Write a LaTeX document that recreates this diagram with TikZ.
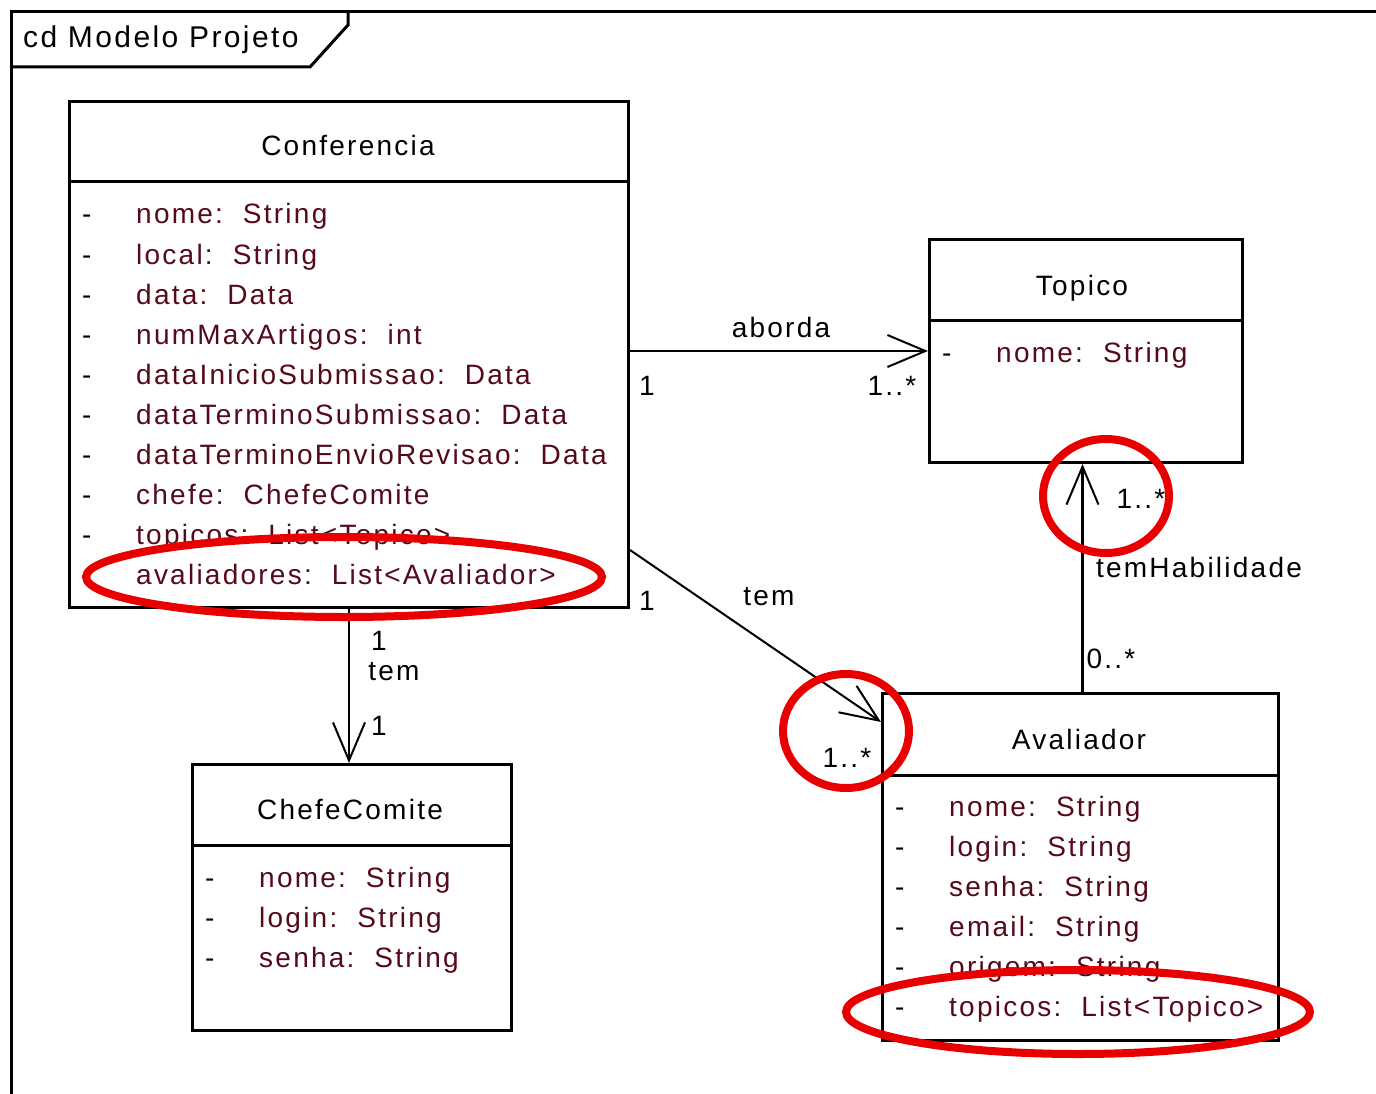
\documentclass[tikz,border=0pt]{standalone}
\usepackage{fontspec}
\setmainfont[LetterSpace=8]{Liberation Sans}
\usetikzlibrary{arrows.meta,calc}
\definecolor{attrcol}{RGB}{85,10,25}
\definecolor{markred}{RGB}{232,0,0}
\newcommand{\umlfont}{\fontsize{28}{34}\selectfont}
\newcommand{\attrrow}[1]{\makebox[54pt][l]{\color{black}-}#1}
\tikzset{
  classbox/.style={draw, line width=3pt, inner sep=0pt, anchor=north west},
  divider/.style={line width=3pt},
  classtitle/.style={anchor=base, inner sep=0pt, font=\umlfont},
  attrtext/.style={anchor=base west, inner sep=0pt, text=attrcol, font=\umlfont},
  lbl/.style={anchor=base, inner sep=0pt, font=\umlfont},
  conn/.style={line width=2.5pt},
  opentip/.style={-{Straight Barb[length=38pt,width=32pt,line width=2pt]}},
  highlight/.style={draw=markred, line width=8pt},
  framestyle/.style={line width=3pt}
}
\begin{document}
\begin{tikzpicture}[x=1pt,y=-1pt]
\useasboundingbox (0,0) rectangle (1376,1094);
\fill[white] (0,0) rectangle (1376,1094);

% frame
\draw[framestyle] (11,1094) -- (11,12) -- (1376,12);
\draw[framestyle] (11,67) -- (310,67) -- (348,25) -- (348,12);
\node[anchor=base west, inner sep=0pt, font=\fontsize{30}{36}\selectfont] (frametitle) at (23,48) {cd Modelo Projeto};

% Conferencia
\node[classbox, minimum width=559pt, minimum height=506pt] (conf) at (68,100) {};
\draw[divider] ($(conf.north west)+(0,-82pt)$) -- ($(conf.north east)+(0,-82pt)$);
\node[classtitle] (conft) at (348,156) {Conferencia};
\node[attrtext] (c1) at (82,224) {\attrrow{nome:~~String}};
\node[attrtext] (c2) at (82,264) {\attrrow{local:~~String}};
\node[attrtext] (c3) at (82,304) {\attrrow{data:~~Data}};
\node[attrtext] (c4) at (82,344) {\attrrow{numMaxArtigos:~~int}};
\node[attrtext] (c5) at (82,384) {\attrrow{dataInicioSubmissao:~~Data}};
\node[attrtext] (c6) at (82,424) {\attrrow{dataTerminoSubmissao:~~Data}};
\node[attrtext] (c7) at (82,464) {\attrrow{dataTerminoEnvioRevisao:~~Data}};
\node[attrtext] (c8) at (82,504) {\attrrow{chefe:~~ChefeComite}};
\node[attrtext] (c9) at (82,544) {\attrrow{topicos:~~List<Topico>}};
\node[attrtext] (c10) at (82,584) {\attrrow{avaliadores:~~List<Avaliador>}};

% Topico
\node[classbox, minimum width=313pt, minimum height=223pt] (topico) at (928,238) {};
\draw[divider] ($(topico.north west)+(0,-82pt)$) -- ($(topico.north east)+(0,-82pt)$);
\node[classtitle] (topicot) at (1082,295) {Topico};
\node[attrtext] (t1) at (942,362) {\attrrow{nome:~~String}};

% Avaliador
\node[classbox, minimum width=396pt, minimum height=347pt] (aval) at (881,692) {};
\draw[divider] ($(aval.north west)+(0,-83pt)$) -- ($(aval.north east)+(0,-83pt)$);
\node[classtitle] (avalt) at (1079,749) {Avaliador};
\node[attrtext] (a1) at (895,816) {\attrrow{nome:~~String}};
\node[attrtext] (a2) at (895,856) {\attrrow{login:~~String}};
\node[attrtext] (a3) at (895,896) {\attrrow{senha:~~String}};
\node[attrtext] (a4) at (895,936) {\attrrow{email:~~String}};
\node[attrtext] (a5) at (895,976) {\attrrow{origem:~~String}};
\node[attrtext] (a6) at (895,1016) {\attrrow{topicos:~~List<Topico>}};

% ChefeComite
\node[classbox, minimum width=319pt, minimum height=266pt] (chefe) at (191,763) {};
\draw[divider] ($(chefe.north west)+(0,-82pt)$) -- ($(chefe.north east)+(0,-82pt)$);
\node[classtitle] (chefet) at (350,819) {ChefeComite};
\node[attrtext] (h1) at (205,887) {\attrrow{nome:~~String}};
\node[attrtext] (h2) at (205,927) {\attrrow{login:~~String}};
\node[attrtext] (h3) at (205,967) {\attrrow{senha:~~String}};

% connectors
\draw[conn, opentip] (conf.east |- topico.west) -- (topico.west);
\draw[conn, line width=2pt, opentip] ($(conf.north east)+(0,-450pt)$) -- ($(aval.north west)+(0,-30pt)$);
\draw[conn, opentip] (conf.south) -- (conf.south |- chefe.north);
\draw[conn, opentip] ($(aval.north)+(2pt,0)$) -- ($(aval.north |- topico.south)+(2pt,0)$);

% labels
\node[lbl] (lab1) at (781,337) {aborda};
\node[lbl] (lab1a) at (647,395) {1};
\node[lbl] (lab1b) at (892,395) {1..*};
\node[lbl] (lab2) at (769,605) {tem};
\node[lbl] (lab2a) at (647,610) {1};
\node[lbl] (lab2b) at (847,767) {1..*};
\node[lbl] (lab3a) at (379,650) {1};
\node[lbl] (lab3) at (394,680) {tem};
\node[lbl] (lab3b) at (379,735) {1};
\node[lbl] (lab4) at (1199,577) {temHabilidade};
\node[lbl] (lab4a) at (1141,508) {1..*};
\node[lbl] (lab4b) at (1111,668) {0..*};

% red highlights
\draw[highlight] (344,577) ellipse [x radius=258pt, y radius=40pt];
\draw[highlight] (1106,496) ellipse [x radius=63pt, y radius=57pt];
\draw[highlight] (846,731) ellipse [x radius=63pt, y radius=57pt];
\draw[highlight] (1078,1012) ellipse [x radius=232pt, y radius=42pt];
\end{tikzpicture}
\end{document}
